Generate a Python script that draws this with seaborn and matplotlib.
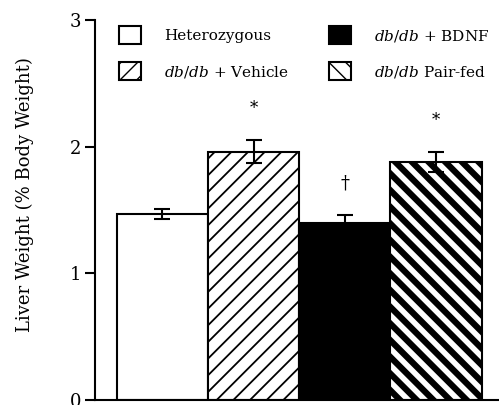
import matplotlib
matplotlib.use("Agg")
import matplotlib.pyplot as plt
import seaborn as sns

# 데이터
groups = ["Heterozygous", "db/db + Vehicle", "db/db + BDNF", "db/db Pair-fed"]
labels = ["Heterozygous", r"$\it{db/db}$ + Vehicle", r"$\it{db/db}$ + BDNF", r"$\it{db/db}$ Pair-fed"]
liver_weight = [1.47, 1.96, 1.40, 1.88]
sem = [0.04, 0.09, 0.06, 0.08]
marks = ["", "*", "\u2020", "*"]

colors = ["white", "white", "black", "white"]
hatches = [None, "//", None, "\\\\"]
hatch_lw = [1.0, 1.3, 1.0, 4.5]

sns.set_style("ticks")
plt.rcParams["font.family"] = ["DejaVu Serif"]
plt.rcParams["mathtext.fontset"] = "dejavuserif"
plt.rcParams["text.color"] = "black"
plt.rcParams["axes.edgecolor"] = "black"
plt.rcParams["ytick.color"] = "black"
plt.rcParams["ytick.labelcolor"] = "black"

fig = plt.figure(figsize=(4.99, 4.05), dpi=100)
ax = fig.add_axes([0.190, 0.0123, 0.810, 0.938])

sns.barplot(x=groups, y=liver_weight, hue=groups, palette=colors,
            edgecolor="black", linewidth=1.5, width=1.0, legend=False,
            errorbar=None, ax=ax)

for p, h, lw in zip(ax.patches, hatches, hatch_lw):
    if h:
        p.set_hatch(h)
        if hasattr(p, "set_hatch_linewidth"):
            p.set_hatch_linewidth(lw)

ax.errorbar(range(len(groups)), liver_weight, yerr=sem, fmt="none",
            ecolor="black", elinewidth=1.5, capsize=6, capthick=1.5, zorder=5)

# 유의성 표시
for i, (v, e, m) in enumerate(zip(liver_weight, sem, marks)):
    if m:
        ax.text(i, v + e + 0.25, m, ha="center", va="center",
                fontsize=13 if m != "*" else 12)

ax.set_xlim(-0.74, 3.69)
ax.set_ylim(0, 3)
ax.set_yticks([0, 1, 2, 3])
ax.set_xticks([])
ax.tick_params(axis="y", length=7, width=1.5, labelsize=13, pad=3)
for s in ["left", "bottom"]:
    ax.spines[s].set_linewidth(1.5)
sns.despine(ax=ax)

fig.text(25 / 499, 1 - 195 / 405, "Liver Weight (% Body Weight)",
         rotation=90, ha="center", va="center", fontsize=13)

ax.legend(handles=ax.patches[:4], labels=labels, ncol=2, loc="upper left",
          bbox_to_anchor=(0.025, 1.02), frameon=False, fontsize=11,
          handlelength=1.45, handleheight=1.45, handletextpad=1.5,
          columnspacing=2.6, labelspacing=1.15)

fig.savefig("out.png", dpi=100)
